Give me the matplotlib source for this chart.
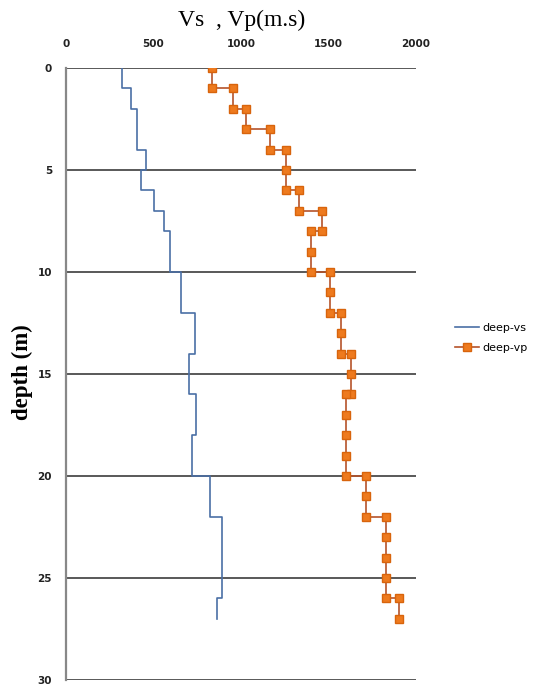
import matplotlib
matplotlib.use("Agg")
import matplotlib.pyplot as plt

# Vs step profile (depth, m/s)
vs_depth = [0, 1, 1, 2, 2, 4, 4, 5, 5, 6, 6, 7, 7, 8, 8, 10, 10, 12, 12, 14,
            14, 16, 16, 18, 18, 20, 20, 22, 22, 26, 26, 27]
vs_vel = [320, 320, 370, 370, 405, 405, 455, 455, 430, 430, 505, 505, 560, 560,
          595, 595, 655, 655, 735, 735, 700, 700, 740, 740, 720, 720, 820, 820,
          890, 890, 860, 860]

# Vp measured points
vp_depth = [0, 1, 1, 2, 2, 3, 3, 4, 4, 5, 6, 6, 7, 7, 8, 8, 9, 10, 10, 11, 12,
            12, 13, 14, 14, 15, 16, 16, 17, 18, 19, 20, 20, 21, 22, 22, 23, 24,
            25, 26, 26, 27]
vp_vel = [835, 835, 955, 955, 1030, 1030, 1165, 1165, 1255, 1255, 1255, 1330,
          1330, 1460, 1460, 1400, 1400, 1400, 1510, 1510, 1510, 1570, 1570, 1570,
          1630, 1630, 1630, 1600, 1600, 1600, 1600, 1600, 1715, 1715, 1715, 1830,
          1830, 1830, 1830, 1830, 1900, 1900]

x_ticks = [0, 500, 1000, 1500, 2000]
y_ticks = [0, 5, 10, 15, 20, 25, 30]

fig = plt.figure(figsize=(5.39, 6.9), dpi=100)
ax = fig.add_axes([66 / 539, 1 - 680 / 690, 350 / 539, 612 / 690])

ax.plot(vs_vel, vs_depth, color="#4A6FA5", lw=1.2, label="deep-vs")
ax.plot(vp_vel, vp_depth, color="#B5532A", lw=1.2, marker="s", markersize=6,
        markerfacecolor="#EE7A1E", markeredgecolor="#D8640C", label="deep-vp")

ax.set_xlim(0, 2000)
ax.set_ylim(30, 0)
ax.set_xticks(x_ticks)
ax.set_yticks(y_ticks)
ax.xaxis.tick_top()
ax.tick_params(axis="x", length=0, pad=14, labelsize=7.5, labelcolor="#222")
ax.tick_params(axis="y", length=0, pad=10, labelsize=7.5, labelcolor="#222")
for lbl in ax.get_xticklabels() + ax.get_yticklabels():
    lbl.set_fontweight("bold")
ax.yaxis.grid(True, color="#2b2b2b", lw=1.1)
ax.set_axisbelow(True)
for s in ["top", "right", "bottom"]:
    ax.spines[s].set_visible(False)
ax.spines["left"].set_color("#888888")
ax.spines["left"].set_linewidth(1.6)

fig.text(242 / 539, 1 - 20 / 690, "Vs  , Vp(m.s)", ha="center", va="center",
         family="Liberation Serif", fontsize=17)
fig.text(22 / 539, 1 - 372 / 690, "depth (m)", ha="center", va="center",
         rotation=90, family="Liberation Serif", fontweight="bold", fontsize=16.5)

fig.legend(loc="center left", bbox_to_anchor=(445 / 539, 1 - 338 / 690),
           frameon=False, fontsize=8, handlelength=2.2, handletextpad=0.3,
           labelspacing=0.9)

fig.savefig("out.png", dpi=100)
